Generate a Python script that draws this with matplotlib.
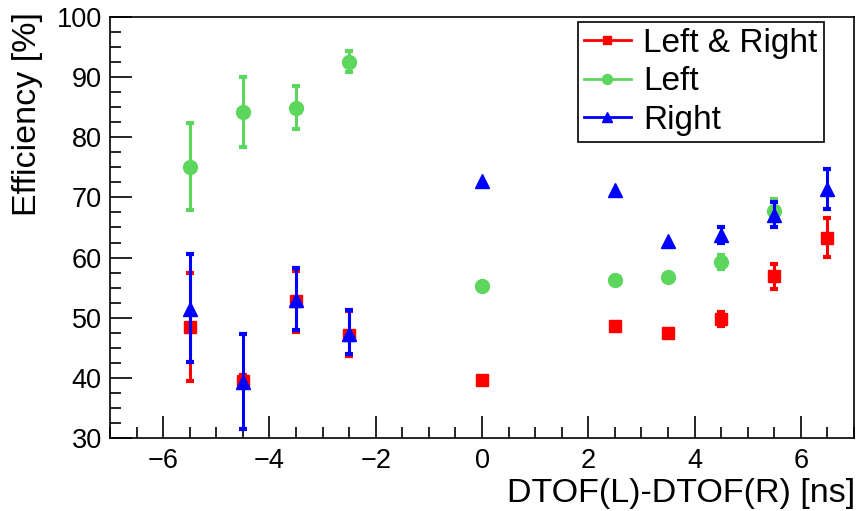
import numpy as np
import matplotlib as mpl
mpl.use("Agg")
import matplotlib.pyplot as plt
from matplotlib.ticker import MultipleLocator
from matplotlib.lines import Line2D

# donnees
x = [-5.5, -4.5, -3.5, -2.5, 0.0, 2.5, 3.5, 4.5, 5.5, 6.5]

lr_y = [48.5, 39.5, 52.7, 47.1, 39.6, 48.6, 47.5, 49.8, 56.9, 63.3]
lr_lo = [9.0, 1.0, 5.0, 3.4, 0.0, 0.0, 0.0, 1.1, 2.2, 3.2]
lr_hi = [8.9, 1.0, 5.0, 4.0, 0.0, 0.0, 0.0, 1.2, 2.0, 3.2]

left_y = [75.1, 84.2, 84.9, 92.6, 55.3, 56.2, 56.7, 59.3, 67.7, np.nan]
left_lo = [7.2, 5.8, 3.6, 1.8, 0.0, 0.0, 0.0, 1.2, 1.6, 0.0]
left_hi = [7.2, 5.8, 3.6, 1.8, 0.0, 0.0, 0.0, 1.2, 2.0, 0.0]

right_y = [51.5, 39.3, 52.9, 47.3, 72.7, 71.2, 62.8, 63.7, 67.0, 71.4]
right_lo = [8.8, 7.8, 4.9, 3.3, 0.0, 0.0, 0.0, 1.2, 2.0, 3.3]
right_hi = [9.1, 8.0, 5.3, 3.9, 0.0, 0.0, 0.0, 1.3, 2.3, 3.3]

plt.rcParams['font.family'] = ['Liberation Sans', 'DejaVu Sans']

fig = plt.figure(figsize=(8.56, 5.11), dpi=100)
ax = fig.add_axes([110 / 856, (511 - 438) / 511, 744 / 856, 421 / 511])

series = [
    (lr_y, lr_lo, lr_hi, 's', '#ff0000', 'Left & Right', 8.5),
    (left_y, left_lo, left_hi, 'o', '#5cd65c', 'Left', 10),
    (right_y, right_lo, right_hi, '^', '#0000ff', 'Right', 10),
]
handles = []
for yv, lo, hi, mk, col, lab, ms in series:
    lo = np.array(lo)
    hi = np.array(hi)
    has = (lo + hi) > 0
    xa = np.array(x)
    ya = np.array(yv)
    ax.errorbar(xa[has], ya[has], yerr=[lo[has], hi[has]], fmt='none', ecolor=col,
                lw=2.2, capsize=3, capthick=3)
    ax.plot(xa, ya, mk, color=col, ms=ms, ls='none')
    handles.append(Line2D([], [], color=col, lw=2, marker=mk, ms=ms * 0.72, label=lab))

ax.set_xlim(-7, 7)
ax.set_ylim(30, 100)
ax.xaxis.set_major_locator(MultipleLocator(2))
ax.xaxis.set_minor_locator(MultipleLocator(0.5))
ax.yaxis.set_major_locator(MultipleLocator(10))
ax.yaxis.set_minor_locator(MultipleLocator(2.5))
ax.tick_params(which='both', direction='in', labelsize=19.5, width=1.2)
ax.tick_params(which='major', length=16)
ax.tick_params(which='minor', length=8)
ax.tick_params(axis='x', pad=7)
ax.tick_params(axis='y', pad=6)
for s in ax.spines.values():
    s.set_linewidth(1.2)

fig.text(855 / 856, 1 - 493 / 511, 'DTOF(L)-DTOF(R) [ns]', fontsize=24.5, ha='right', va='center')
fig.text(28 / 856, 1 - 12 / 511, 'Efficiency [%]', fontsize=24.5, rotation=90, ha='center', va='top')

leg = fig.legend(handles=handles, loc='upper left', bbox_to_anchor=(578 / 856, 1 - 22 / 511),
                 fontsize=24, frameon=True, fancybox=False, edgecolor='black',
                 handlelength=1.4, handletextpad=0.38, borderpad=0.18, borderaxespad=0,
                 labelspacing=0.22, framealpha=1)
leg.get_frame().set_linewidth(1.2)

fig.savefig('out.png', dpi=100)
